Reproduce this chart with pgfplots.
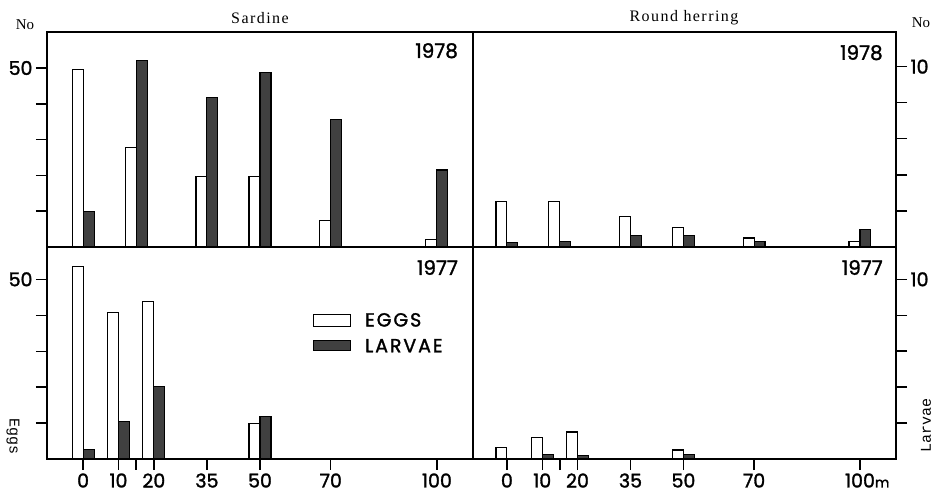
\documentclass[border=0pt]{standalone}
\usepackage{pgfplots}
\pgfplotsset{compat=1.18}
\usepackage{fontspec}
\setmainfont{Liberation Serif}
\newfontfamily\pop[FakeBold=1.5]{Poppins}
\newfontfamily\popsp[LetterSpace=10,FakeBold=1.5]{Poppins}
\newfontfamily\sersp[LetterSpace=9]{Liberation Serif}
\newfontfamily\mono{Liberation Mono}
\newcommand\tickfont{\fontsize{19}{19}\pop}
\pgfplotsset{
  panel/.style={
    scale only axis, xmin=-10.2, xmax=110.2, ymin=0,
    axis line style={line width=1.6pt},
    tick style={line width=1.4pt, black},
    tick align=outside, major tick length=11pt,
    /pgf/number format/assume math mode=true,
    ticklabel style={font=\tickfont},
  },
  eggs/.style={ybar, bar width=3.1, bar shift=-1.55, draw=black, fill=white, line width=1.1pt,
     legend image code/.code={\draw[draw=black,fill=white,line width=1.1pt] (0pt,-5.5pt) rectangle (37pt,6pt);}},
  larv/.style={ybar, bar width=3.1, bar shift=1.55, draw=black, fill=black!75, line width=1.1pt,
     legend image code/.code={\draw[draw=black,fill=black!75,line width=1.1pt] (0pt,-4.5pt) rectangle (37pt,5.5pt);}},
}
\tikzset{yearlab/.style={anchor=north east, inner sep=0pt, font=\fontsize{20}{20}\pop}}
\begin{document}
\begin{tikzpicture}
\useasboundingbox (0pt,0pt) rectangle (938pt,495pt);
% ---------------- Sardine 1978
\begin{axis}[panel, at={(47pt,248pt)}, anchor=south west, width=426pt, height=215pt,
  ymax=60.06, xtick=\empty, ytick={10,20,30,40,50}, yticklabels={,,,,50}, ytick pos=left]
\addplot[eggs] coordinates {(0,49.5) (15,27.8) (35,19.8) (50,19.6) (70,7.5) (100,2)};
\addplot[larv] coordinates {(0,10) (15,52) (35,41.8) (50,48.7) (70,35.5) (100,21.5)};
\node[yearlab] at (rel axis cs:0.965,0.949) {1978};
\end{axis}
% ---------------- Round herring 1978
\begin{axis}[panel, at={(473pt,248pt)}, anchor=south west, width=423pt, height=215pt,
  xmin=-9.6, ymax=11.92, xtick=\empty, ytick={2,4,6,8,10}, yticklabels={,,,,10},
  ytick pos=right, yticklabel pos=right]
\addplot[eggs] coordinates {(0,2.5) (15,2.5) (35,1.7) (50,1.1) (70,0.5) (100,0.3)};
\addplot[larv] coordinates {(0,0.25) (15,0.3) (35,0.65) (50,0.65) (70,0.3) (100,0.95)};
\node[yearlab] at (rel axis cs:0.969,0.94) {1978};
\end{axis}
% ---------------- Sardine 1977
\begin{axis}[panel, at={(47pt,36pt)}, anchor=south west, width=426pt, height=212pt,
  ymax=59, xtick={0,10,15,20,35,50,70,100}, xticklabels={0,10,,20,35,50,70,100},
  xtick pos=left, ytick={10,20,30,40,50}, yticklabels={,,,,50}, ytick pos=left,
  legend style={draw=none, fill=none, at={(0.617,0.708)}, anchor=north west,
    font=\fontsize{19}{19}\popsp, row sep=7pt,
    /tikz/every odd column/.append style={column sep=12pt}}, legend cell align=left]
\addplot[eggs] coordinates {(0,53.6) (10,40.8) (20,43.8) (50,9.9)};
\addplot[larv] coordinates {(0,2.7) (10,10.4) (20,20.1) (50,11.8)};
\legend{EGGS,LARVAE}
\node[yearlab] at (rel axis cs:0.965,0.939) {1977};
\end{axis}
% ---------------- Round herring 1977
\begin{axis}[panel, at={(473pt,36pt)}, anchor=south west, width=423pt, height=212pt,
  xmin=-9.6, ymax=11.8, xtick={0,10,15,20,35,50,70,100},
  xticklabels={0,10,,20,35,50,70,100\rlap{\fontsize{14}{14}\pop m}},
  xtick pos=left, ytick={2,4,6,8,10}, yticklabels={,,,,10},
  ytick pos=right, yticklabel pos=right]
\addplot[eggs] coordinates {(0,0.65) (10,1.2) (20,1.5) (50,0.5)};
\addplot[larv] coordinates {(10,0.25) (20,0.2) (50,0.25)};
\node[yearlab] at (rel axis cs:0.969,0.939) {1977};
\end{axis}
% ---------------- titles and side labels
\node[font=\fontsize{16}{16}\sersp] at (260pt,477pt) {Sardine};
\node[font=\fontsize{16}{16}\sersp] at (684pt,477pt) {Round herring};
\node[font=\fontsize{15}{15}\selectfont] at (25pt,470pt) {No};
\node[font=\fontsize{15}{15}\selectfont] at (921pt,472pt) {No};
\node[font=\fontsize{15}{15}\mono, rotate=-90] at (13pt,58pt) {Eggs};
\node[font=\fontsize{15}{15}\mono, rotate=90] at (926pt,70pt) {Larvae};
\end{tikzpicture}
\end{document}
